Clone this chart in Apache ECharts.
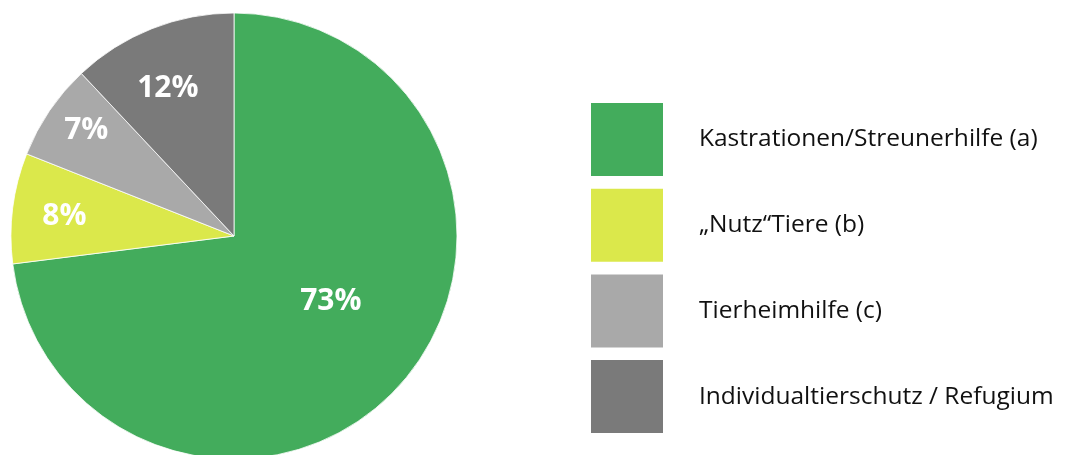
<!DOCTYPE html>
<html>
<head>
<meta charset="utf-8">
<script src="https://cdn.jsdelivr.net/npm/echarts@6/dist/echarts.min.js"></script>
<style>
html,body{margin:0;padding:0;background:#fff;}
#chart{width:1074px;height:455px;}
</style>
</head>
<body>
<div id="chart"></div>
<script>
const categories = ['Kastrationen/Streunerhilfe (a)', '\u201ENutz\u201CTiere (b)', 'Tierheimhilfe (c)', 'Individualtierschutz / Refugium'];
const values = [73, 8, 7, 12];
const colors = ['#43AC5C', '#DBE84B', '#A9A9A9', '#7A7A7A'];
const labelOffsets = [[11, -10], [-56, -5], [-53, -41], [-24, -41]];

const chart = echarts.init(document.getElementById('chart'), null, {renderer: 'canvas'});
chart.setOption({
  animation: false,
  color: colors,
  legend: {
    orient: 'vertical',
    left: 589,
    top: 101,
    padding: 0,
    itemWidth: 74,
    itemHeight: 75,
    itemGap: 8.7,
    icon: 'rect',
    data: categories,
    textStyle: {
      fontFamily: 'Open Sans',
      fontSize: 24.5,
      color: '#111',
      padding: [0, 0, 16, 30]
    }
  },
  series: [{
    type: 'pie',
    center: [234, 236],
    radius: 223,
    startAngle: 90,
    clockwise: true,
    avoidLabelOverlap: false,
    itemStyle: {borderColor: '#fff', borderWidth: 0.8},
    label: {
      show: true,
      position: 'inside',
      formatter: '{c}%',
      color: '#fff',
      fontFamily: 'Open Sans',
      fontWeight: 'bold',
      fontSize: 30
    },
    labelLine: {show: false},
    emphasis: {disabled: true},
    data: categories.map((c, i) => ({
      name: c,
      value: values[i],
      label: {offset: labelOffsets[i]}
    }))
  }]
});
</script>
</body>
</html>
